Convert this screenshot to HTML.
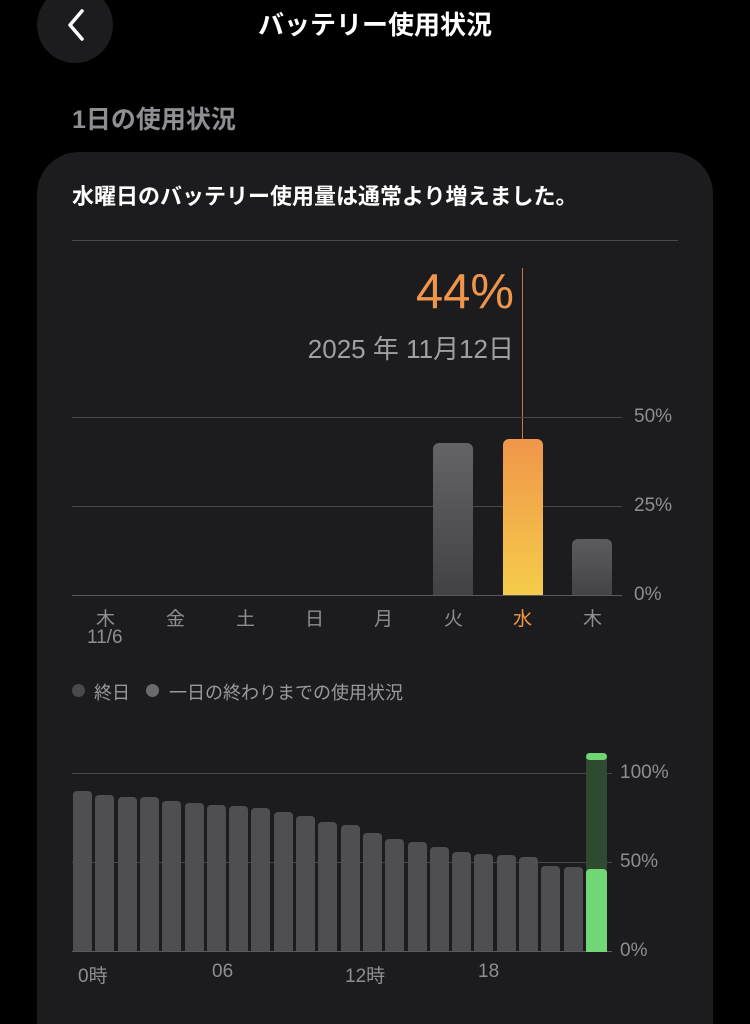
<!DOCTYPE html>
<html><head><meta charset="utf-8"><style>
*{margin:0;padding:0;box-sizing:border-box}
html{width:750px;height:1024px;overflow:hidden;background:#000}
body{width:750px;height:1024px;background:#000;position:relative;overflow:hidden;font-family:"Liberation Sans","Noto Sans CJK JP",sans-serif;color:#fff}
.a{position:absolute;white-space:nowrap}
.card{position:absolute;left:37px;top:152px;width:676px;height:872px;background:#1c1c1e;border-radius:42px 42px 0 0}
.g{position:absolute;height:1px;background:#48484a}
.bar{position:absolute;background:#4f4f51;border-radius:4px 4px 0 0}
.lab{position:absolute;color:#8e8e93;font-size:19px}
</style></head><body>
<div class="a" style="left:37px;top:-13px;width:76px;height:76px;border-radius:50%;background:#1c1c1e"></div>
<svg class="a" style="left:60px;top:8px" width="30" height="34"><polyline points="22,3 10,17 22,31" fill="none" stroke="#fff" stroke-width="3.5" stroke-linecap="round" stroke-linejoin="round"/></svg>
<div class="a" style="left:0;width:750px;text-align:center;top:5px;font-size:26px;font-weight:bold">バッテリー使用状況</div>
<div class="a" style="left:72px;top:100px;font-size:25px;font-weight:bold;color:#8e8e93">1日の使用状況</div>
<div class="card"></div>
<div class="a" style="left:72px;top:179px;font-size:22px;font-weight:bold">水曜日のバッテリー使用量は通常より増えました。</div>
<div class="g" style="left:72px;width:606px;top:240px"></div>

<div class="a" style="left:300px;width:214px;text-align:right;top:264px;font-size:49px;color:#f0964a">44%</div>
<div class="a" style="left:260px;width:254px;text-align:right;top:329px;font-size:26px;color:#a0a0a4">2025 年 11月12日</div>
<div class="a" style="left:522px;top:268px;width:1px;height:172px;background:#c07a45"></div>

<div class="g" style="left:72px;width:550px;top:417px"></div>
<div class="g" style="left:72px;width:550px;top:506px"></div>
<div class="g" style="left:72px;width:550px;top:595px;background:#5a5a5c"></div>
<div class="lab" style="left:634px;top:406px">50%</div>
<div class="lab" style="left:634px;top:495px">25%</div>
<div class="lab" style="left:634px;top:584px">0%</div>
<div class="bar" style="left:433px;width:40px;top:443px;height:152px;border-radius:6px 6px 0 0;background:linear-gradient(#646466,#424244)"></div>
<div class="bar" style="left:503px;width:40px;top:439px;height:156px;border-radius:6px 6px 0 0;background:linear-gradient(#f0964a,#f5cc4a)"></div>
<div class="bar" style="left:572px;width:40px;top:539px;height:56px;border-radius:6px 6px 0 0;background:linear-gradient(#5c5c5e,#444446)"></div>
<div class="lab" style="left:96px;top:604px">木</div>
<div class="lab" style="left:87px;top:627px">11/6</div>
<div class="lab" style="left:166px;top:604px">金</div>
<div class="lab" style="left:236px;top:604px">土</div>
<div class="lab" style="left:305px;top:604px">日</div>
<div class="lab" style="left:374px;top:604px">月</div>
<div class="lab" style="left:444px;top:604px">火</div>
<div class="lab" style="left:513px;top:604px;color:#f0964a">水</div>
<div class="lab" style="left:583px;top:604px">木</div>

<div class="a" style="left:72px;top:684px;width:13px;height:13px;border-radius:50%;background:#4a4a4c"></div>
<div class="lab" style="left:94px;top:679px;color:#9a9a9e;font-size:18px">終日</div>
<div class="a" style="left:146px;top:684px;width:13px;height:13px;border-radius:50%;background:#6a6a6c"></div>
<div class="lab" style="left:169px;top:679px;color:#9a9a9e;font-size:18px">一日の終わりまでの使用状況</div>

<div class="g" style="left:72px;width:540px;top:773px"></div>
<div class="g" style="left:72px;width:540px;top:862px"></div>
<div class="g" style="left:72px;width:540px;top:951px;background:#5a5a5c"></div>
<div class="lab" style="left:620px;top:762px">100%</div>
<div class="lab" style="left:620px;top:851px">50%</div>
<div class="lab" style="left:620px;top:940px">0%</div>
<div id="bars"></div>
<div class="a" style="left:586px;top:753px;width:21px;height:199px;background:#2e4a30;border-radius:4px 4px 0 0"></div>
<div class="a" style="left:586px;top:753px;width:21px;height:7px;background:#6fd472;border-radius:4px"></div>
<div class="a" style="left:586px;top:869px;width:21px;height:83px;background:#72d877;border-radius:4px 4px 0 0"></div>
<div class="lab" style="left:78px;top:961px">0時</div>
<div class="lab" style="left:212px;top:961px">06</div>
<div class="lab" style="left:345px;top:961px">12時</div>
<div class="lab" style="left:478px;top:961px">18</div>
<script>
var t=[791,795,797,797,801,803,805,806,808,812,816,822,825,833,839,842,847,852,854,855,857,866,867];
var h='';for(var i=0;i<t.length;i++){h+='<div class="bar" style="left:'+(73+i*22.3).toFixed(1)+'px;width:19px;top:'+t[i]+'px;height:'+(951-t[i])+'px"></div>';}
document.getElementById('bars').innerHTML=h;
</script>
</body></html>
